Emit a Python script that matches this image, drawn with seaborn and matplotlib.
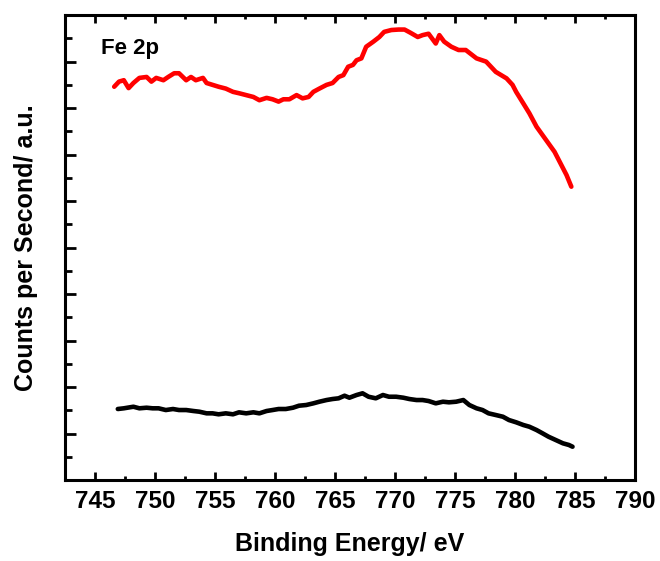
import numpy as np
import pandas as pd
import matplotlib
matplotlib.use("Agg")
import matplotlib.pyplot as plt
import seaborn as sns
from matplotlib.ticker import MultipleLocator, NullFormatter

# Fe 2p espectro, muestra 1 (rojo)
energia_rojo = [746.6, 747.0, 747.4, 747.8, 748.2, 748.7, 749.3, 749.7, 750.1, 750.7,
                751.1, 751.6, 752.0, 752.6, 753.0, 753.4, 754.0, 754.3, 754.8, 755.3,
                755.9, 756.5, 757.0, 757.6, 758.2, 758.7, 759.3, 759.8, 760.3, 760.7,
                761.2, 761.8, 762.3, 762.8, 763.2, 763.7, 764.3, 764.8, 765.3, 765.7,
                766.1, 766.5, 766.8, 767.2, 767.6, 768.2, 768.7, 769.1, 769.7, 770.3,
                770.8, 771.3, 771.9, 772.3, 772.8, 773.4, 773.7, 774.1, 774.7, 775.3,
                775.9, 776.8, 777.6, 778.4, 779.3, 779.8, 780.1, 780.7, 781.2, 781.8,
                782.3, 782.8, 783.3, 783.8, 784.3, 784.7]
cps_rojo = [8460, 8570, 8600, 8430, 8540, 8650, 8670, 8570, 8650, 8600,
            8670, 8750, 8750, 8600, 8670, 8600, 8650, 8540, 8500, 8460,
            8420, 8350, 8320, 8280, 8240, 8170, 8220, 8190, 8140, 8190,
            8190, 8280, 8210, 8240, 8350, 8420, 8500, 8540, 8670, 8710,
            8890, 8930, 9030, 9070, 9320, 9430, 9530, 9640, 9680, 9690,
            9690, 9620, 9530, 9570, 9600, 9390, 9570, 9430, 9320, 9250,
            9250, 9070, 9000, 8780, 8640, 8500, 8350, 8100, 7890, 7600,
            7420, 7240, 7060, 6810, 6560, 6310]

# Fe 2p espectro, muestra 2 (negro)
energia_negro = [746.9, 747.4, 748.2, 748.7, 749.3, 749.8, 750.3, 750.9, 751.5, 752.0,
                 752.6, 753.2, 753.7, 754.3, 754.8, 755.3, 755.9, 756.5, 757.0, 757.6,
                 758.2, 758.7, 759.3, 759.8, 760.3, 760.9, 761.5, 762.0, 762.6, 763.2,
                 763.7, 764.3, 764.8, 765.3, 765.8, 766.2, 766.8, 767.3, 767.8, 768.4,
                 769.0, 769.5, 770.1, 770.7, 771.2, 771.8, 772.3, 772.8, 773.4, 774.0,
                 774.5, 775.1, 775.7, 776.2, 776.8, 777.3, 777.8, 778.4, 779.0, 779.5,
                 780.1, 780.7, 781.2, 781.8, 782.3, 782.8, 783.4, 784.0, 784.5, 784.8]
cps_negro = [1527, 1542, 1576, 1542, 1555, 1542, 1542, 1505, 1527, 1505,
             1505, 1484, 1469, 1434, 1434, 1413, 1434, 1413, 1456, 1434,
             1456, 1434, 1484, 1505, 1527, 1527, 1555, 1598, 1613, 1649,
             1684, 1720, 1742, 1757, 1813, 1770, 1828, 1865, 1791, 1757,
             1828, 1791, 1791, 1770, 1742, 1720, 1720, 1699, 1649, 1684,
             1671, 1684, 1720, 1613, 1542, 1505, 1434, 1398, 1361, 1290,
             1241, 1183, 1146, 1075, 1004, 931, 860, 789, 753, 716]

sns.set_style("ticks")
plt.rcParams['font.family'] = ['Liberation Sans', 'DejaVu Sans']
plt.rcParams['font.weight'] = 'bold'
plt.rcParams['text.color'] = 'black'
plt.rcParams['axes.labelcolor'] = 'black'
plt.rcParams['xtick.color'] = 'black'
plt.rcParams['ytick.color'] = 'black'

fig = plt.figure(figsize=(6.6, 5.61), dpi=100)
ax = fig.add_axes([0.0985, 0.1444, 0.8635, 0.8286])

df_rojo = pd.DataFrame({'energia': energia_rojo, 'cps': cps_rojo})
df_negro = pd.DataFrame({'energia': energia_negro, 'cps': cps_negro})
sns.lineplot(data=df_rojo, x='energia', y='cps', color='#ff0000', lw=3.3, ax=ax)
sns.lineplot(data=df_negro, x='energia', y='cps', color='black', lw=3.3, ax=ax)

ax.set_xlim(742.5, 790)
ax.set_ylim(0, 10000)
ax.xaxis.set_major_locator(MultipleLocator(5))
ax.xaxis.set_minor_locator(MultipleLocator(2.5))
ax.yaxis.set_major_locator(MultipleLocator(1000))
ax.yaxis.set_minor_locator(MultipleLocator(500))
ax.yaxis.set_major_formatter(NullFormatter())

for lado in ['left', 'bottom', 'top', 'right']:
    ax.spines[lado].set_linewidth(2.2)
    ax.spines[lado].set_color('black')

ax.tick_params(axis='both', which='both', direction='in', width=2, color='black',
               labelcolor='black')
ax.tick_params(axis='x', which='major', length=6, top=True, labelsize=17.5, pad=7)
ax.tick_params(axis='x', which='minor', length=3, top=True)
ax.tick_params(axis='y', which='major', length=8, right=False)
ax.tick_params(axis='y', which='minor', length=5, right=False)
for lbl in ax.get_xticklabels():
    lbl.set_fontweight('bold')

ax.set_xlabel('Binding Energy/ eV', fontsize=18, fontweight='bold', labelpad=14,
              color='black')
ax.set_ylabel('Counts per Second/ a.u.', fontsize=18, fontweight='bold', labelpad=16,
              color='black')
ax.text(745.5, 9290, 'Fe 2p', fontsize=16, fontweight='bold', va='center', ha='left',
        color='black')

fig.savefig('out.png', dpi=100)
